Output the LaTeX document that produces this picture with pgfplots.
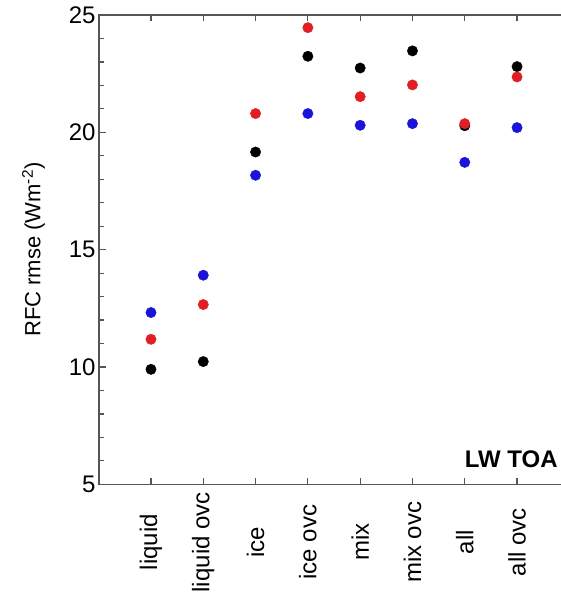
\documentclass[border=0pt]{standalone}
\usepackage{pgfplots}
\pgfplotsset{compat=1.18}
\usepackage{fontspec}
\setmainfont{Liberation Sans}
\definecolor{pred}{RGB}{225,30,35}
\definecolor{pblue}{RGB}{25,20,215}
\definecolor{axgray}{RGB}{85,85,85}
\begin{document}
\begin{tikzpicture}
\begin{axis}[name=ax, scale only axis, width=480.8pt, height=469.3pt,
  xmin=-0.994, xmax=8.2, ymin=5, ymax=25,
  axis line style={axgray, line width=1.1pt},
  tick style={axgray, line width=1.2pt},
  tick align=inside,
  major tick length=6.5pt, minor tick length=4.5pt,
  xtick pos=both, ytick pos=left,
  xtick={0,1,2,3,4,5,6,7},
  xticklabels={liquid, liquid ovc, ice, ice ovc, mix, mix ovc, all, all ovc},
  ytick={5,10,15,20,25},
  yticklabels={5,10,15,20,25},
  minor ytick={6,7,8,9,11,12,13,14,16,17,18,19,21,22,23,24},
  tick label style={font=\fontsize{24}{28}\selectfont},
  x tick label style={rotate=90, anchor=center},
  xticklabel shift=58pt,
  ylabel={RFC rmse (Wm\textsuperscript{-2})},
  ylabel style={at={(axis description cs:-0.136,0.5)}, anchor=center, font=\fontsize{22}{26}\selectfont},
  clip=false,
]
\addplot[only marks, mark=*, mark size=5.2pt, black, mark options={draw=black, fill=black}] coordinates {
(0,9.90) (1,10.23) (2,19.16) (3,23.24) (4,22.74) (5,23.47) (6,20.28) (7,22.80)};
\addplot[only marks, mark=*, mark size=5.2pt, pblue, mark options={draw=pblue, fill=pblue}] coordinates {
(0,12.32) (1,13.91) (2,18.17) (3,20.80) (4,20.30) (5,20.37) (6,18.72) (7,20.20)};
\addplot[only marks, mark=*, mark size=5.2pt, pred, mark options={draw=pred, fill=pred}] coordinates {
(0,11.18) (1,12.66) (2,20.80) (3,24.46) (4,21.52) (5,22.02) (6,20.37) (7,22.36)};
\node[anchor=base east, inner sep=0pt, font=\bfseries\fontsize{24}{28}\selectfont] at (axis cs:7.78,5.72) {LW TOA};
\end{axis}
\pgfresetboundingbox
\path[use as bounding box] ([xshift=-99pt,yshift=-108.7pt]ax.south west) rectangle ([xshift=461pt,yshift=15pt]ax.north west);
\end{tikzpicture}
\end{document}
